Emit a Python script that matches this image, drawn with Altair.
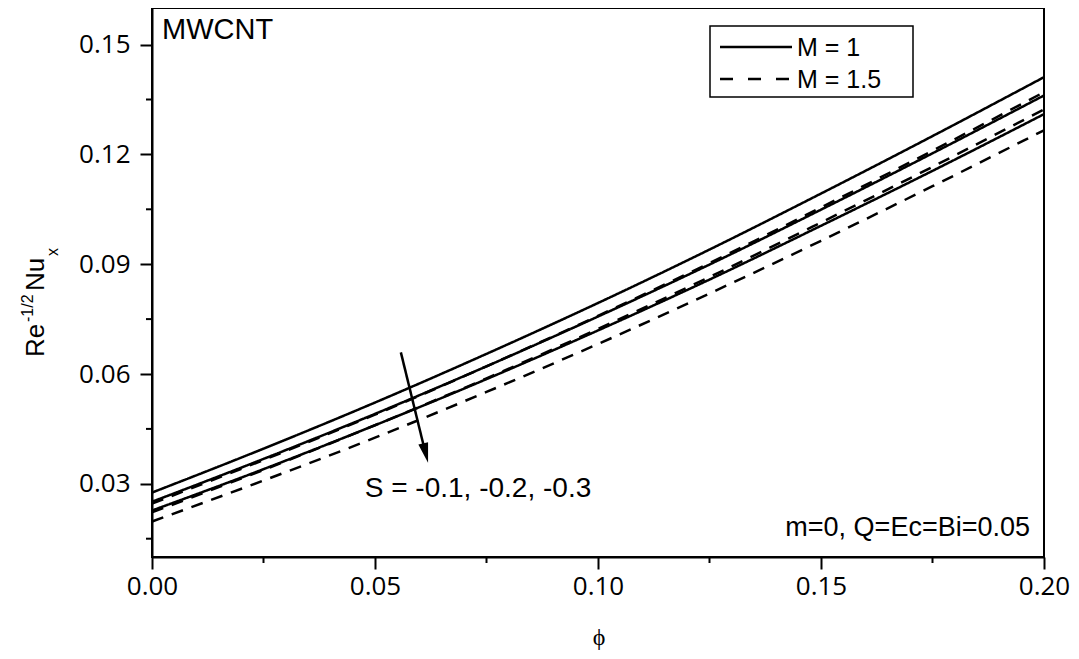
import altair as alt
import pandas as pd

# ---- data ----
phi = [0.0, 0.025, 0.05, 0.075, 0.1, 0.125, 0.15, 0.175, 0.2]
m1_s1 = [0.0276, 0.0396, 0.0522, 0.0655, 0.0794, 0.0940, 0.1093, 0.1250, 0.1411]
m1_s2 = [0.0251, 0.0368, 0.0491, 0.0621, 0.0757, 0.0899, 0.1049, 0.1203, 0.1361]
m1_s3 = [0.0227, 0.0340, 0.0460, 0.0586, 0.0719, 0.0858, 0.1005, 0.1155, 0.1310]
m15_s1 = [0.0246, 0.0365, 0.0489, 0.0621, 0.0759, 0.0903, 0.1055, 0.1210, 0.1370]
m15_s2 = [0.0222, 0.0338, 0.0460, 0.0588, 0.0723, 0.0865, 0.1014, 0.1166, 0.1323]
m15_s3 = [0.0197, 0.0309, 0.0426, 0.0551, 0.0682, 0.0820, 0.0964, 0.1113, 0.1266]

m_labels = ["M = 1", "M = 1.5"]
s_labels = ["-0.1", "-0.2", "-0.3"]

x_ticks = [0.0, 0.05, 0.10, 0.15, 0.20]
x_minor = [0.025, 0.075, 0.125, 0.175]
y_ticks = [0.03, 0.06, 0.09, 0.12, 0.15]
y_minor = [0.015, 0.045, 0.075, 0.105, 0.135]

# arrow annotation (data coordinates)
arrow_start = [0.0558, 0.0659]
arrow_end = [0.0610, 0.0400]
arrow_head = [0.06135, 0.0384]

series = {
    ("M = 1", "-0.1"): m1_s1, ("M = 1", "-0.2"): m1_s2, ("M = 1", "-0.3"): m1_s3,
    ("M = 1.5", "-0.1"): m15_s1, ("M = 1.5", "-0.2"): m15_s2, ("M = 1.5", "-0.3"): m15_s3,
}
rows = []
for (m, s), vals in series.items():
    for p, v in zip(phi, vals):
        rows.append({"phi": p, "nu": v, "M": m, "S": s})
df = pd.DataFrame(rows)

xscale = alt.Scale(domain=[0, 0.2], nice=False, zero=False)
yscale = alt.Scale(domain=[0.01, 0.16], nice=False, zero=False)

lines = alt.Chart(df).mark_line(color="black", strokeWidth=2.5, interpolate="monotone", clip=True).encode(
    x=alt.X("phi:Q", scale=xscale,
            axis=alt.Axis(values=x_ticks, format=".2f", title=None, labelPadding=4, labelFlush=False)),
    y=alt.Y("nu:Q", scale=yscale,
            axis=alt.Axis(values=y_ticks, format=".2f", title=None, labelPadding=10, labelFlush=False)),
    strokeDash=alt.StrokeDash(
        "M:N",
        scale=alt.Scale(domain=m_labels, range=[[1, 0], [12, 9]]),
        legend=None,
    ),
    detail="S:N",
)

xminor_df = pd.DataFrame({"v": x_minor})
yminor_df = pd.DataFrame({"v": y_minor})
xminor = alt.Chart(xminor_df).mark_rule(color="black", strokeWidth=2).encode(
    x=alt.X("v:Q", scale=xscale), y=alt.value(549), y2=alt.value(555)
)
yminor = alt.Chart(yminor_df).mark_rule(color="black", strokeWidth=2).encode(
    y=alt.Y("v:Q", scale=yscale), x=alt.value(0), x2=alt.value(-6)
)

arrow_df = pd.DataFrame({"x": [arrow_start[0]], "y": [arrow_start[1]], "x2": [arrow_end[0]], "y2": [arrow_end[1]]})
shaft = alt.Chart(arrow_df).mark_rule(color="black", strokeWidth=2.5).encode(
    x=alt.X("x:Q", scale=xscale), y=alt.Y("y:Q", scale=yscale), x2="x2:Q", y2="y2:Q"
)
head_df = pd.DataFrame({"x": [arrow_head[0]], "y": [arrow_head[1]]})
head = alt.Chart(head_df).mark_point(
    filled=True, color="black", opacity=1, size=400, angle=346,
    shape="M -0.5 -1 L 0.5 -1 L 0 1 Z",
).encode(x=alt.X("x:Q", scale=xscale), y=alt.Y("y:Q", scale=yscale))


def label(text, x, y, size, font="Liberation Sans", align="left", baseline="alphabetic", angle=0):
    return alt.Chart(pd.DataFrame({"t": [text]})).mark_text(
        font=font, fontSize=size, align=align, baseline=baseline, angle=angle, color="black"
    ).encode(text="t:N", x=alt.value(x), y=alt.value(y))


# legend box (drawn by hand to match the original's compact layout)
leg_box = alt.Chart(pd.DataFrame({"k": [0]})).mark_rect(
    fill="white", stroke="black", strokeWidth=1.5
).encode(x=alt.value(558), x2=alt.value(761), y=alt.value(18), y2=alt.value(89))
leg_solid = alt.Chart(pd.DataFrame({"k": [0]})).mark_rule(color="black", strokeWidth=2.5).encode(
    x=alt.value(568), x2=alt.value(640), y=alt.value(39)
)
leg_dash = alt.Chart(pd.DataFrame({"k": [0]})).mark_rule(
    color="black", strokeWidth=2.5, strokeDash=[13, 15]
).encode(x=alt.value(568), x2=alt.value(641), y=alt.value(71))

texts = [
    label("MWCNT", 10, 31, 29),
    label("S = -0.1, -0.2, -0.3", 326, 489, 28, align="center"),
    label("m=0, Q=Ec=Bi=0.05", 878, 528, 27, align="right"),
    label("ϕ", 447, 637, 24, font="Liberation Serif", align="center"),
    label("Re", -108, 349, 26, angle=270),
    label("-1/2", -119, 314, 16, angle=270),
    label("Nu", -108, 283, 26, angle=270),
    label("x", -94, 248, 16, angle=270),
    label(m_labels[0], 645, 48, 25),
    label(m_labels[1], 645, 80, 25),
]

chart = alt.layer(lines, xminor, yminor, shaft, head, leg_box, leg_solid, leg_dash, *texts).properties(
    width=892, height=549,
    autosize=alt.AutoSizeParams(type="none"),
    padding={"left": 144, "top": 0, "right": 27, "bottom": 95},
).configure_view(stroke="black", strokeWidth=2).configure_axis(
    labelFont="Open Sans", labelFontSize=26, labelColor="black",
    domainColor="black", domainWidth=2, tickColor="black", tickWidth=2,
    tickSize=12, grid=False,
)

chart.save("out.html", embed_options={"renderer": "svg", "actions": False})
